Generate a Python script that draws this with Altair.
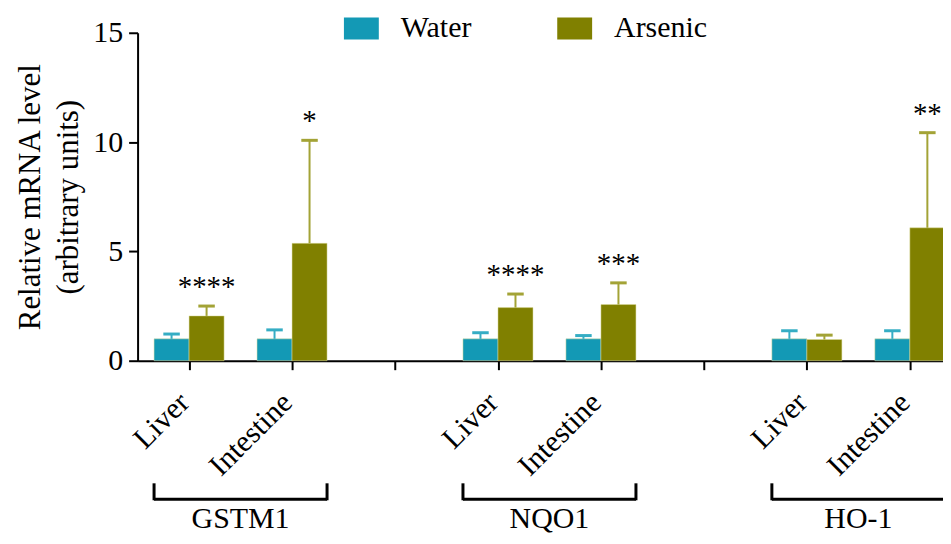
import altair as alt
import pandas as pd

# ---- data ----
genes = ["GSTM1", "GSTM1", "NQO1", "NQO1", "HO-1", "HO-1"]
tissues = ["Liver", "Intestine", "Liver", "Intestine", "Liver", "Intestine"]
slots = [0, 1, 3, 4, 6, 7]
water_mean = [1.0, 1.0, 1.0, 1.0, 1.0, 1.0]
water_err = [0.22, 0.41, 0.28, 0.15, 0.37, 0.37]
arsenic_mean = [2.05, 5.37, 2.43, 2.57, 0.97, 6.08]
arsenic_err = [0.45, 4.71, 0.62, 0.99, 0.20, 4.35]
stars = ["****", "*", "****", "***", "", "**"]
treatments = ["Water", "Arsenic"]
colors = ["#1399b5", "#808000"]
err_colors = ["#35adc4", "#a3a336"]

FONT = "Liberation Serif, Times New Roman, serif"
BW = 0.34      # bar width in slot units
CAP = 0.08     # half cap width in slot units

rows = []
for i in range(len(slots)):
    for t, means, errs, ec in (("Water", water_mean, water_err, err_colors[0]),
                               ("Arsenic", arsenic_mean, arsenic_err, err_colors[1])):
        m = means[i]
        e = errs[i]
        if t == "Water":
            x0, x1 = slots[i] - BW, slots[i]
        else:
            x0, x1 = slots[i], slots[i] + BW
        c = (x0 + x1) / 2
        rows.append(dict(gene=genes[i], tissue=tissues[i], Treatment=t,
                         x0=x0, x1=x1, xc=c, cl=c - CAP, cr=c + CAP,
                         mean=m, top=m + e, zero=0, ecol=ec,
                         star=stars[i] if t == "Arsenic" else ""))
df = pd.DataFrame(rows)

grp = []
for g in dict.fromkeys(genes):
    idx = [k for k, gg in enumerate(genes) if gg == g]
    lo = min(slots[k] for k in idx) - BW
    hi = max(slots[k] for k in idx) + BW
    grp.append(dict(gene=g, lo=lo, hi=hi, mid=(lo + hi) / 2))
gdf = pd.DataFrame(grp)

label_map = {s: t for s, t in zip(slots, tissues)}
label_expr = "{" + ",".join(f"'{s}':'{t}'" for s, t in label_map.items()) + "}[datum.value] || ''"

W, H = 808, 329
xscale = alt.Scale(domain=[-0.5, -0.5 + W / 103.3], nice=False, zero=False)
yscale = alt.Scale(domain=[0, 15], nice=False)

x_axis = alt.Axis(values=list(range(8)), labelExpr=label_expr, title=None,
                  labelAngle=315, labelAlign="right", labelBaseline="middle",
                  labelFont=FONT, labelFontSize=30, labelColor="black",
                  labelPadding=28, labelOffset=-5, tickSize=9, tickColor="black", tickWidth=2,
                  domainColor="black", domainWidth=2, grid=False)
y_axis = alt.Axis(values=[0, 5, 10, 15], title=["Relative mRNA level", "(arbitrary units)"],
                  titleFont=FONT, titleFontSize=31, titleFontWeight="normal",
                  titleLineHeight=38, titleColor="black", titlePadding=8,
                  labelFont=FONT, labelFontSize=30, labelColor="black", labelPadding=6,
                  tickSize=9, tickColor="black", tickWidth=2,
                  domainColor="black", domainWidth=2, grid=False)

base = alt.Chart(df)

bars = base.mark_bar(strokeWidth=1, stroke="#dcdca0", strokeOpacity=0.5).encode(
    x=alt.X("x0:Q", scale=xscale, axis=x_axis),
    x2="x1:Q",
    y=alt.Y("mean:Q", scale=yscale, axis=y_axis),
    y2="zero:Q",
    color=alt.Color("Treatment:N",
                    scale=alt.Scale(domain=treatments, range=colors),
                    legend=alt.Legend(orient="none", legendX=207, legendY=-22,
                                      direction="horizontal", title=None,
                                      symbolType="M-1,-0.63H1V0.63H-1Z",
                                      symbolSize=1225, symbolStrokeWidth=0,
                                      labelFont=FONT, labelFontSize=30,
                                      labelColor="black", labelOffset=22,
                                      columnPadding=86, padding=0)),
)

err = base.mark_rule(strokeWidth=2).encode(
    x="xc:Q", y="mean:Q", y2="top:Q", color=alt.Color("ecol:N", scale=None, legend=None))
caps = base.mark_rule(strokeWidth=3).encode(
    x="cl:Q", x2="cr:Q", y="top:Q", color=alt.Color("ecol:N", scale=None, legend=None))
txt = base.mark_text(font=FONT, fontSize=29, baseline="middle", dy=-19, color="black").encode(
    x="xc:Q", y="top:Q", text="star:N")

gbase = alt.Chart(gdf)
br_h = gbase.mark_rule(strokeWidth=3, color="black").encode(
    x="lo:Q", x2="hi:Q", y=alt.value(468))
br_l = gbase.mark_rule(strokeWidth=3, color="black").encode(
    x="lo:Q", y=alt.value(452), y2=alt.value(469))
br_r = gbase.mark_rule(strokeWidth=3, color="black").encode(
    x="hi:Q", y=alt.value(452), y2=alt.value(469))
glab = gbase.mark_text(font=FONT, fontSize=30, baseline="alphabetic", color="black").encode(
    x="mid:Q", y=alt.value(497), text="gene:N")

chart = alt.layer(bars, err, caps, txt, br_h, br_l, br_r, glab).properties(
    width=W, height=H, autosize=alt.AutoSizeParams(type="none"),
    padding={"left": 130, "top": 24, "right": 0, "bottom": 173},
).configure_view(stroke=None)

chart.save("out.html", embed_options={"renderer": "svg", "actions": False})
